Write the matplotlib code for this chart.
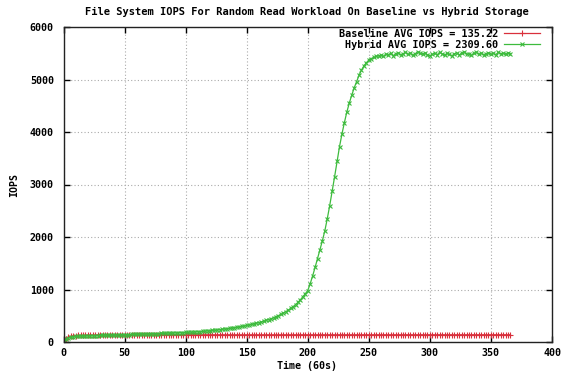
import matplotlib
matplotlib.use("Agg")
import matplotlib.pyplot as plt

# Sample times (units of 60 s), one sample every 2 intervals
time_60s = list(range(0, 367, 2))

# Baseline storage IOPS
baseline_iops = [
    0, 60, 95, 110, 118, 122, 125, 127, 129, 130,
    131, 132, 132, 133, 133, 134, 134, 134, 135, 135,
    135, 135, 136, 136, 136, 136, 136, 137, 137, 137,
    137, 137, 137, 137, 137, 138, 138, 138, 138, 138,
    138, 138, 138, 138, 138, 138, 138, 138, 138, 138,
    138, 138, 138, 138, 138, 138, 138, 138, 138, 138,
    138, 138, 138, 138, 138, 138, 138, 138, 138, 138,
    138, 138, 138, 138, 138, 138, 138, 138, 138, 138,
    138, 138, 138, 138, 138, 138, 138, 138, 138, 138,
    138, 138, 138, 138, 138, 138, 138, 138, 138, 138,
    138, 138, 138, 138, 138, 138, 138, 138, 138, 138,
    138, 138, 138, 138, 138, 138, 138, 138, 138, 138,
    138, 138, 138, 138, 138, 138, 138, 138, 138, 138,
    138, 138, 138, 138, 138, 138, 138, 138, 138, 138,
    138, 138, 138, 138, 138, 138, 138, 138, 138, 138,
    138, 138, 138, 138, 138, 138, 138, 138, 138, 138,
    138, 138, 138, 138, 138, 138, 138, 138, 138, 138,
    138, 138, 138, 138, 138, 138, 138, 138, 138, 138,
    138, 138, 138, 138,
]

# Hybrid storage IOPS
hybrid_iops = [
    0, 50, 80, 95, 102, 106, 109, 111, 113, 115,
    117, 118, 120, 121, 123, 124, 126, 127, 129, 130,
    132, 133, 135, 136, 138, 139, 141, 142, 144, 145,
    147, 148, 150, 151, 153, 154, 156, 157, 159, 160,
    162, 163, 165, 167, 169, 171, 173, 175, 177, 179,
    181, 184, 187, 190, 193, 196, 199, 203, 207, 211,
    215, 220, 225, 230, 235, 241, 247, 253, 260, 267,
    274, 282, 290, 298, 307, 316, 326, 336, 347, 358,
    370, 383, 397, 412, 428, 445, 463, 482, 503, 526,
    551, 578, 607, 639, 674, 712, 755, 805, 862, 920,
    980, 1110, 1260, 1420, 1590, 1760, 1930, 2120, 2350, 2600,
    2870, 3150, 3440, 3720, 3960, 4180, 4380, 4550, 4700, 4840,
    4960, 5080, 5180, 5260, 5320, 5370, 5400, 5420, 5440, 5450,
    5460, 5440, 5480, 5470, 5500, 5450, 5490, 5510, 5470, 5490,
    5520, 5480, 5500, 5460, 5490, 5530, 5500, 5480, 5510, 5470,
    5450, 5480, 5500, 5470, 5520, 5490, 5460, 5500, 5480, 5450,
    5490, 5510, 5470, 5500, 5530, 5480, 5490, 5460, 5500, 5520,
    5480, 5500, 5470, 5490, 5510, 5480, 5500, 5470, 5520, 5490,
    5500, 5480, 5510, 5490,
]

baseline_label = "Baseline AVG IOPS = 135.22"
hybrid_label = "Hybrid AVG IOPS = 2309.60"

red = "#d9303c"
green = "#3dbb3d"

plt.rcParams["font.family"] = ["DejaVu Sans Mono"]
plt.rcParams["font.weight"] = "bold"
plt.rcParams["font.size"] = 7

W, H = 563, 374
fig = plt.figure(figsize=(W / 100, H / 100), dpi=100)
x0, x1, y0, y1 = 63.5, 552, 27, 342
ax = fig.add_axes([x0 / W, 1 - y1 / H, (x1 - x0) / W, (y1 - y0) / H])

ax.plot(time_60s, baseline_iops, color=red, lw=0.9, marker="+", ms=4.5,
        mew=0.8, label=baseline_label)
ax.plot(time_60s, hybrid_iops, color=green, lw=0.9, marker="x", ms=3.5,
        mew=0.8, label=hybrid_label)

ax.set_xlim(0, 400)
ax.set_ylim(0, 6000)
ax.set_xticks(range(0, 401, 50))
ax.set_yticks(range(0, 6001, 1000))
ax.tick_params(direction="in", length=4, width=1, top=True, right=True,
               labelsize=7.2)
ax.tick_params(axis="y", pad=7)
ax.tick_params(axis="x", pad=4)
for lab in ax.get_xticklabels() + ax.get_yticklabels():
    lab.set_fontweight("bold")
ax.grid(True, color="#aaaaaa", linestyle=(0, (1, 2)), lw=0.8)
for s in ax.spines.values():
    s.set_linewidth(1)
    s.set_color("#222222")

fig.text(307 / W, 1 - 12 / H,
         "File System IOPS For Random Read Workload On Baseline vs Hybrid Storage",
         ha="center", va="center", fontsize=7.5, fontweight="bold")
fig.text(307 / W, 1 - 366 / H, "Time (60s)", ha="center", va="center",
         fontsize=7.2, fontweight="bold")
fig.text(14 / W, 1 - 185 / H, "IOPS", ha="center", va="center",
         rotation=90, fontsize=7.2, fontweight="bold")

leg = ax.legend(loc="upper right",
                bbox_to_anchor=((540 - x0) / (x1 - x0), (y1 - 29) / (y1 - y0)),
                frameon=False, markerfirst=False, borderpad=0,
                borderaxespad=0, handlelength=3.6, handletextpad=0.5,
                labelspacing=0.08,
                prop={"family": "DejaVu Sans Mono", "weight": "bold", "size": 7.3})
for t in leg.get_texts():
    t.set_ha("right")

fig.savefig("out.png", dpi=100, facecolor="white")
